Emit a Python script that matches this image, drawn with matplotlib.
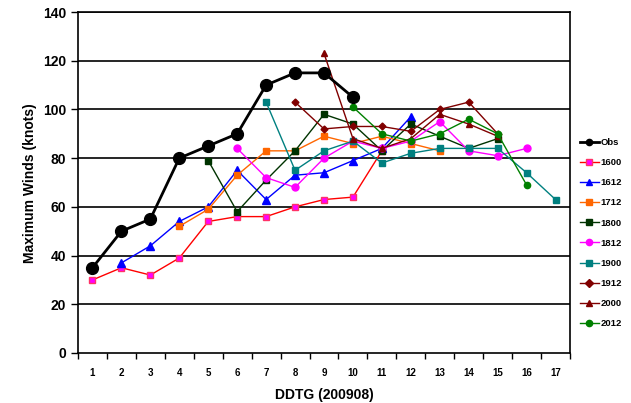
import matplotlib
matplotlib.use("Agg")
import matplotlib.pyplot as plt
import numpy as np

plt.rcParams['font.family'] = ['Liberation Sans', 'DejaVu Sans']

days = list(range(1, 18))
tick_labels = [str(d) for d in days]

obs_x = [1, 2, 3, 4, 5, 6, 7, 8, 9, 10]
obs = [35, 50, 55, 80, 85, 90, 110, 115, 115, 105]

s1600_x = [1, 2, 3, 4, 5, 6, 7, 8, 9, 10, 11]
s1600 = [30, 35, 32, 39, 54, 56, 56, 60, 63, 64, 83]

s1612_x = [2, 3, 4, 5, 6, 7, 8, 9, 10, 11, 12]
s1612 = [37, 44, 54, 60, 75, 63, 73, 74, 79, 84, 97]

s1712_x = [4, 5, 6, 7, 8, 9, 10, 11, 12, 13]
s1712 = [52, 59, 73, 83, 83, 89, 86, 89, 86, 83]

s1800_x = [5, 6, 7, 8, 9, 10, 11, 12, 13, 14, 15]
s1800 = [79, 58, 71, 83, 98, 94, 83, 94, 89, 84, 88]

s1812_x = [6, 7, 8, 9, 10, 11, 12, 13, 14, 15, 16]
s1812 = [84, 72, 68, 80, 87, 84, 87, 95, 83, 81, 84]

s1900_x = [7, 8, 9, 10, 11, 12, 13, 14, 15, 16, 17]
s1900 = [103, 75, 83, 87, 78, 82, 84, 84, 84, 74, 63]

s1912_x = [8, 9, 10, 11, 12, 13, 14, 15]
s1912 = [103, 92, 93, 93, 91, 100, 103, 90]

s2000_x = [9, 10, 11, 12, 13, 14, 15]
s2000 = [123, 88, 84, 88, 98, 94, 89]

s2012_x = [10, 11, 12, 13, 14, 15, 16]
s2012 = [101, 90, 87, 90, 96, 90, 69]

fig = plt.figure(figsize=(6.31, 4.03), dpi=100)
ax = fig.add_axes([78/631, 50/403, (570-78)/631, (353-12)/403])

for y in range(20, 141, 20):
    ax.axhline(y, color='black', lw=1.2, zorder=1)

ax.plot(obs_x, obs, color='black', lw=2, marker='o', ms=8.5, mfc='black', mec='black', label='Obs', zorder=5)
ax.plot(s1600_x, s1600, color='#FF0000', lw=1, marker='s', ms=5, mfc='#FF00FF', mec='#FF3366', label='1600', zorder=3)
ax.plot(s1612_x, s1612, color='#0000FF', lw=1, marker='^', ms=5.5, mfc='#0000FF', mec='#0000FF', label='1612', zorder=3)
ax.plot(s1712_x, s1712, color='#FF6600', lw=1, marker='s', ms=5, mfc='#FF6600', mec='#FF6600', label='1712', zorder=3)
ax.plot(s1800_x, s1800, color='#003300', lw=1, marker='s', ms=5, mfc='#003300', mec='#003300', label='1800', zorder=3)
ax.plot(s1812_x, s1812, color='#FF00FF', lw=1, marker='o', ms=5, mfc='#FF00FF', mec='#FF00FF', label='1812', zorder=3)
ax.plot(s1900_x, s1900, color='#008080', lw=1, marker='s', ms=5, mfc='#008080', mec='#008080', label='1900', zorder=3)
ax.plot(s1912_x, s1912, color='#800000', lw=1, marker='D', ms=3.5, mfc='#800000', mec='#800000', label='1912', zorder=3)
ax.plot(s2000_x, s2000, color='#800000', lw=1, marker='^', ms=5, mfc='#800000', mec='#800000', label='2000', zorder=3)
ax.plot(s2012_x, s2012, color='#008000', lw=1, marker='o', ms=4.5, mfc='#008000', mec='#008000', label='2012', zorder=3)

ax.set_xlim(0.5, 17.5)
ax.set_ylim(0, 140)
ax.set_xticks(days)
ax.set_xticklabels(tick_labels, fontsize=7, fontweight='bold')
ax.set_xticks(np.arange(0.5, 18, 1), minor=True)
ax.tick_params(axis='x', which='major', length=0, pad=11)
ax.tick_params(axis='x', which='minor', length=4, width=1, direction='out')
ax.set_yticks(range(0, 141, 20))
ax.tick_params(axis='y', length=5, width=1, direction='out', labelsize=10)
for lab in ax.get_yticklabels():
    lab.set_fontweight('bold')
for sp in ax.spines.values():
    sp.set_color('black')
    sp.set_linewidth(1.2)

fig.text(324/631, 1 - 395/403, 'DDTG (200908)', fontsize=10, fontweight='bold',
         ha='center', va='center')
fig.text(30/631, 1 - 183/403, 'Maximum Winds (knots)', fontsize=10, fontweight='bold',
         ha='center', va='center', rotation=90)

leg = fig.legend(loc='upper left', bbox_to_anchor=(580/631, 1 - 138/403), frameon=False,
                 fontsize=6.8, handlelength=2.0, handletextpad=0.2, labelspacing=1.18,
                 borderaxespad=0, borderpad=0)
for t in leg.get_texts():
    t.set_fontweight('bold')
for h in leg.legend_handles:
    h.set_markersize(4.5)

fig.savefig('out.png', dpi=100)
